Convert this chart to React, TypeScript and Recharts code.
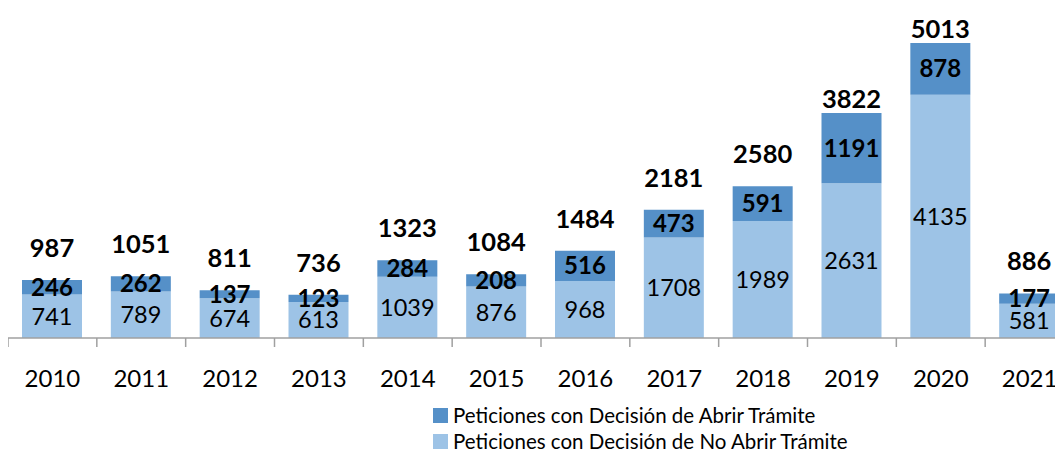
import React from "react";
import { BarChart, Bar, XAxis, YAxis, LabelList, Legend } from "recharts";

const years = ["2010", "2011", "2012", "2013", "2014", "2015", "2016", "2017", "2018", "2019", "2020", "2021"];
const noAbrir = [741, 789, 674, 613, 1039, 876, 968, 1708, 1989, 2631, 4135, 581];
const abrir = [246, 262, 137, 123, 284, 208, 516, 473, 591, 1191, 878, 177];
const totals = [987, 1051, 811, 736, 1323, 1084, 1484, 2181, 2580, 3822, 5013, 886];

const data = years.map((y, i) => ({
  year: y,
  noAbrir: noAbrir[i],
  abrir: abrir[i],
  total: totals[i],
}));

const DARK = "#5590C8";
const LIGHT = "#9DC3E6";
const FONT = "Lato, 'Open Sans', sans-serif";

const BAND = 1066 / 12;

const CustomTick = (props: any) => {
  const { x, y, payload } = props;
  return (
    <g>
      <line x1={x - BAND / 2} y1={y - 8} x2={x - BAND / 2} y2={y + 1} stroke="#A0A0A0" strokeWidth={1.5} />
      <text x={x} y={y + 31} textAnchor="middle" dominantBaseline="central" fontSize={24} fontFamily={FONT} fill="#000">
        {payload.value}
      </text>
    </g>
  );
};

const TotalLabel = (props: any) => {
  const { x, y, width, value } = props;
  const gap = y < 150 ? 15 : 33;
  return (
    <text x={x + width / 2} y={y - gap} textAnchor="middle" dominantBaseline="central" fontSize={25.5} fontWeight={700} fontFamily={FONT} fill="#000">
      {value}
    </text>
  );
};

const LegendContent = () => {
  const items = [
    { color: DARK, label: "Peticiones con Decisión de Abrir Trámite" },
    { color: LIGHT, label: "Peticiones con Decisión de No Abrir Trámite" },
  ];
  return (
    <div style={{ fontFamily: FONT }}>
      {items.map((it) => (
        <div key={it.label} style={{ display: "flex", alignItems: "center", height: 26 }}>
          <span style={{ display: "inline-block", width: 15, height: 15, background: it.color, marginRight: 5 }} />
          <span style={{ fontSize: 20.5, lineHeight: "24px", color: "#000", whiteSpace: "nowrap" }}>{it.label}</span>
        </div>
      ))}
    </div>
  );
};

export default function App() {
  return (
    <div style={{ width: 1066, height: 444 }}>
      <style>{`html, body { overflow: hidden; }`}</style>
      <BarChart
        width={1066}
        height={444}
        data={data}
        margin={{ top: 35, right: 0, left: 0, bottom: 74 }}
        barSize={60}
      >
        <XAxis
          dataKey="year"
          height={40}
          axisLine={{ stroke: "#A0A0A0", strokeWidth: 1.5 }}
          tickLine={false}
          tick={<CustomTick />}
          interval={0}
        />
        <YAxis hide domain={[0, 5013]} allowDataOverflow />
        <Legend
          layout="vertical"
          align="center"
          verticalAlign="middle"
          content={<LegendContent />}
          wrapperStyle={{ top: 394, left: 425, width: 460, height: 52 }}
        />
        <Bar dataKey="noAbrir" stackId="a" fill={LIGHT} isAnimationActive={false} name="Peticiones con Decisión de No Abrir Trámite">
          <LabelList dataKey="noAbrir" position="center" fontSize={23.5} fontFamily={FONT} fill="#000" />
        </Bar>
        <Bar dataKey="abrir" stackId="a" fill={DARK} isAnimationActive={false} name="Peticiones con Decisión de Abrir Trámite">
          <LabelList dataKey="abrir" position="center" fontSize={24} fontWeight={700} fontFamily={FONT} fill="#000" />
          <LabelList dataKey="total" content={<TotalLabel />} />
        </Bar>
      </BarChart>
    </div>
  );
}
